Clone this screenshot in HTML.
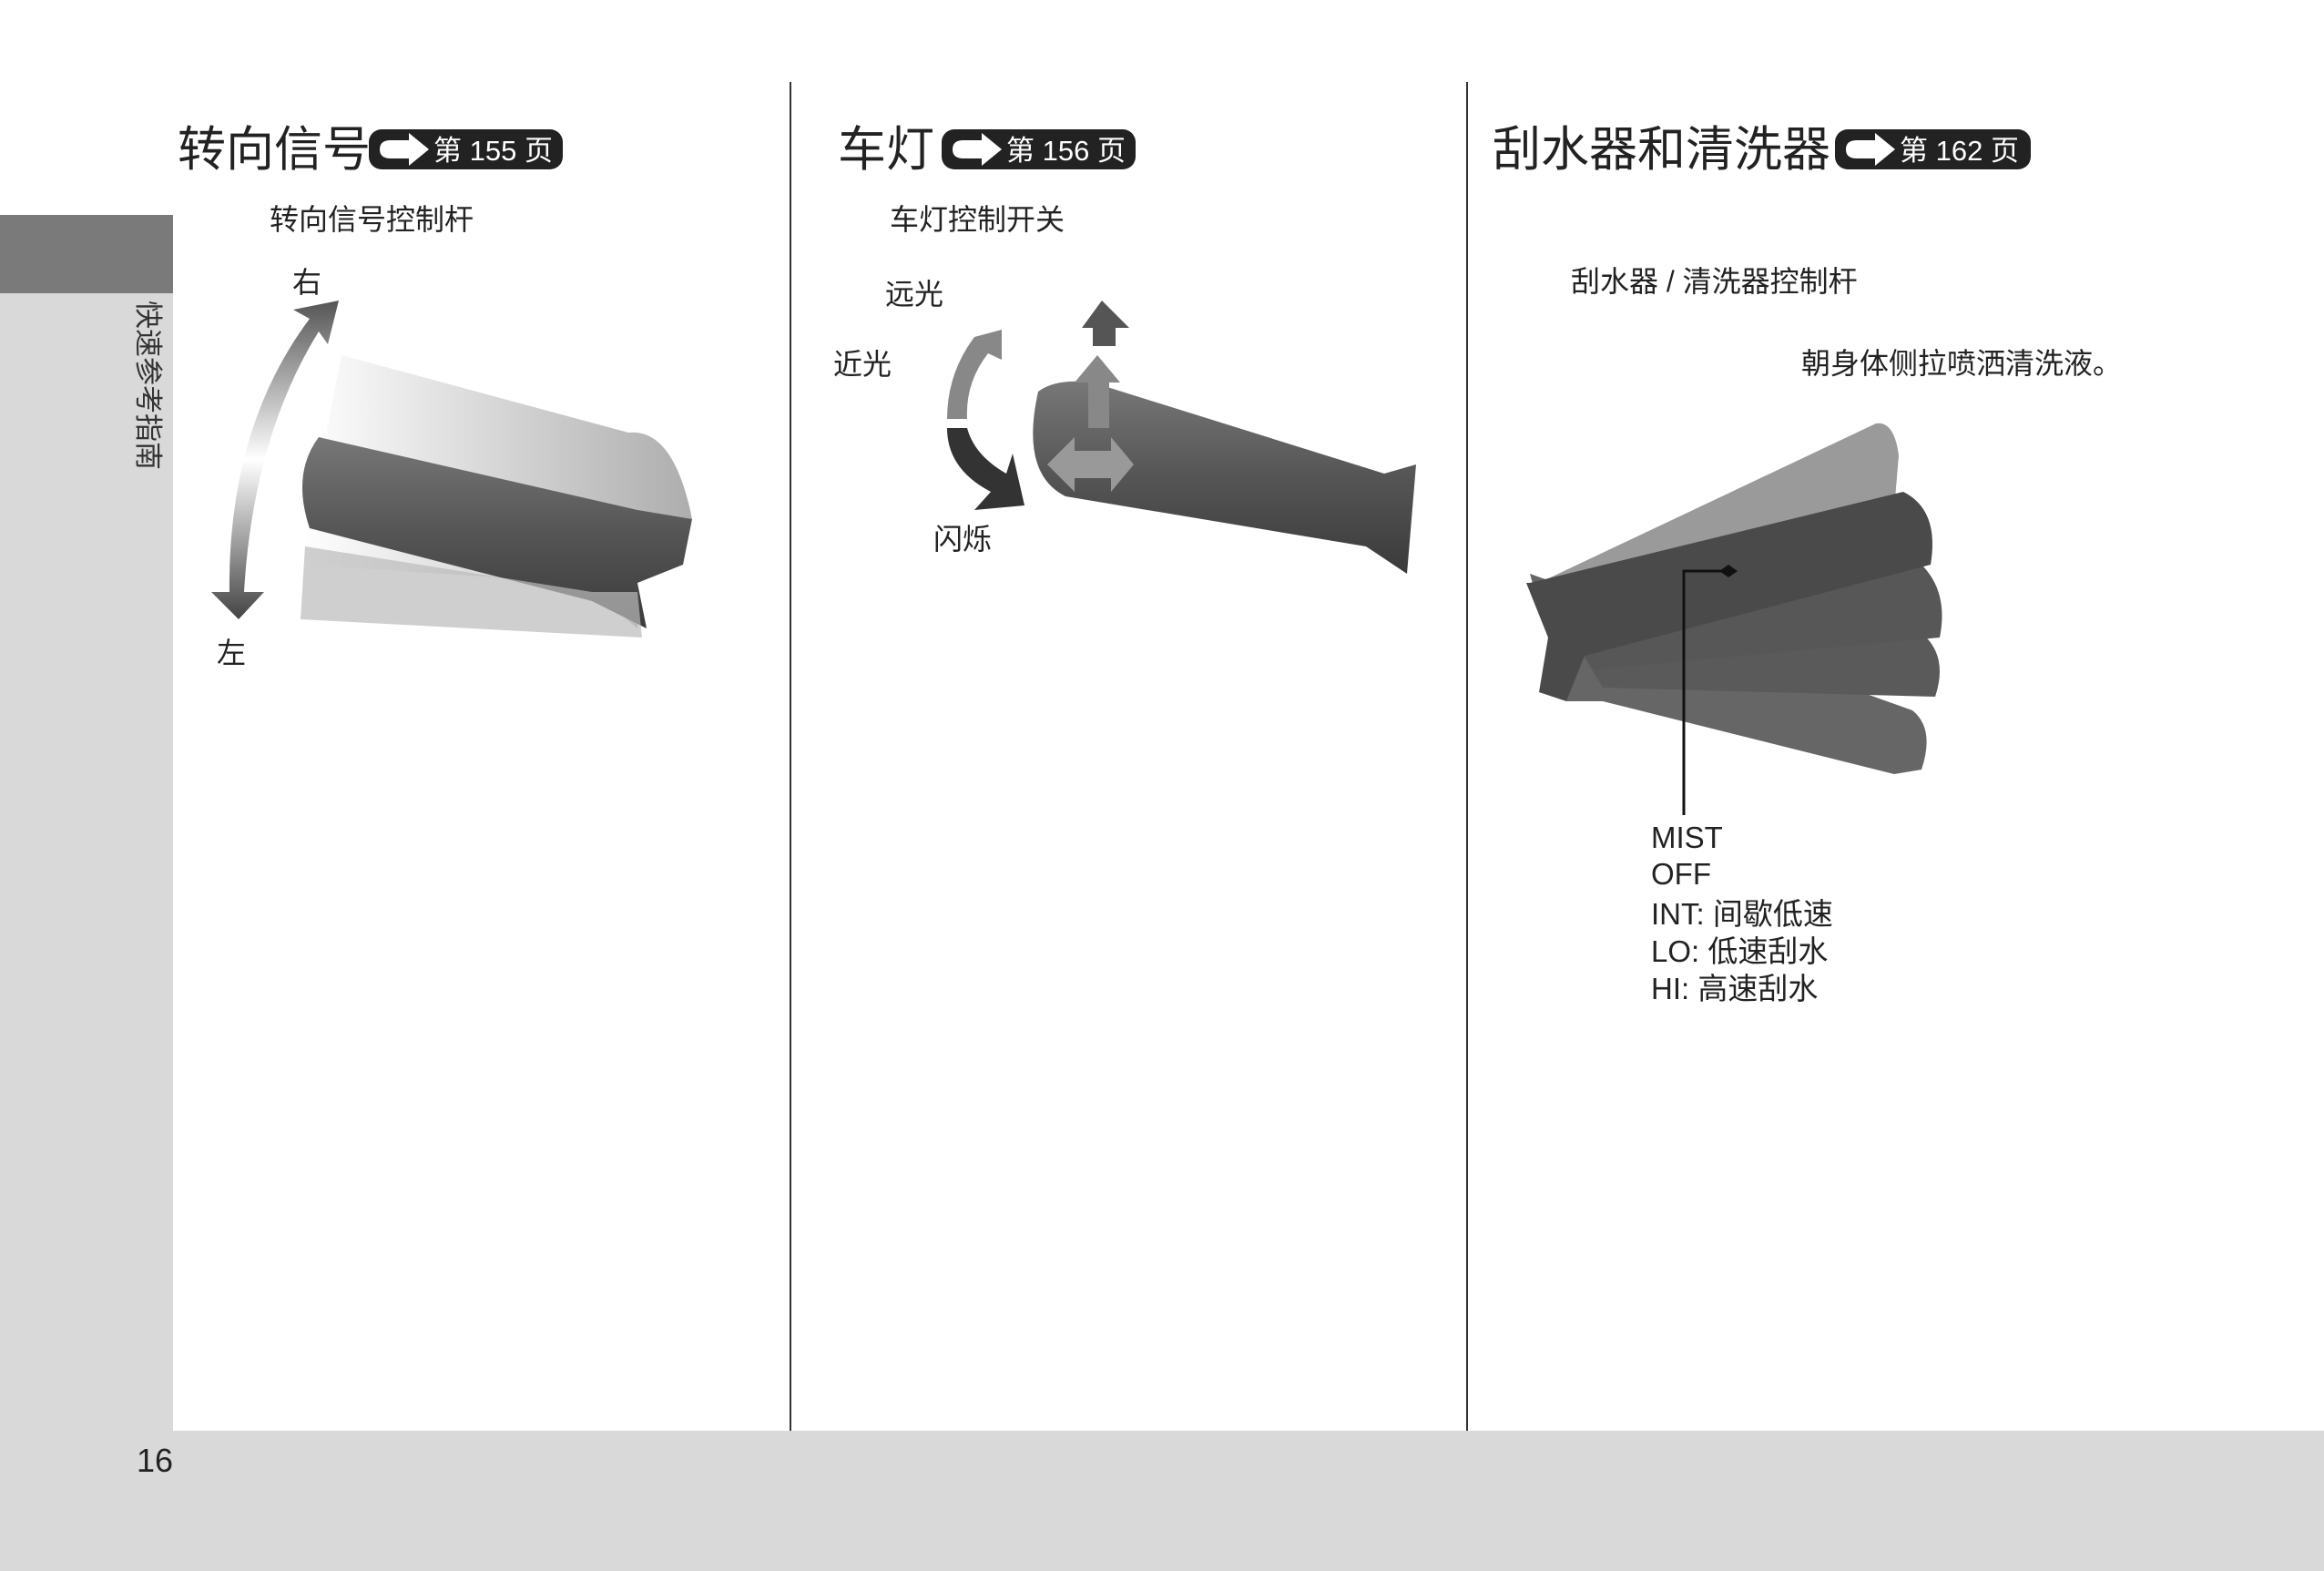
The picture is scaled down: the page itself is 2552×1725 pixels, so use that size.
<!DOCTYPE html>
<html><head><meta charset="utf-8"><style>
html,body{margin:0;padding:0;background:#fff}
svg{display:block}
text{font-family:"Liberation Sans","Noto Sans CJK SC",sans-serif;fill:#222}
</style></head><body>
<svg width="2552" height="1725" viewBox="0 0 2552 1725" xmlns="http://www.w3.org/2000/svg">
<defs>
<linearGradient id="arr1" x1="0" y1="0" x2="0" y2="1">
<stop offset="0" stop-color="#555"/><stop offset="0.5" stop-color="#fff"/><stop offset="1" stop-color="#444"/></linearGradient>
<linearGradient id="lev" x1="0" y1="0" x2="0" y2="1">
<stop offset="0" stop-color="#777"/><stop offset="0.5" stop-color="#555"/><stop offset="1" stop-color="#3a3a3a"/></linearGradient>
<linearGradient id="levf" x1="0" y1="0" x2="1" y2="0">
<stop offset="0" stop-color="#fff"/><stop offset="0.5" stop-color="#ccc"/><stop offset="1" stop-color="#999"/></linearGradient>
<linearGradient id="arr2" x1="0" y1="0" x2="0" y2="1">
<stop offset="0" stop-color="#aaa"/><stop offset="1" stop-color="#333"/></linearGradient>
</defs>
<rect width="2552" height="1725" fill="#fff"/>
<rect x="0" y="321" width="190" height="1404" fill="#d9d9d9"/>
<rect x="0" y="236" width="190" height="86" fill="#7a7a7a"/>
<rect x="0" y="1571" width="2552" height="154" fill="#d9d9d9"/>
<line x1="868" y1="90" x2="868" y2="1571" stroke="#333" stroke-width="2"/>
<line x1="1611" y1="90" x2="1611" y2="1571" stroke="#333" stroke-width="2"/>
<text transform="translate(152,330) rotate(90)" font-size="31" style="fill:#333">快速参考指南</text>
<text x="150" y="1616" font-size="36">16</text>

<!-- col1 -->
<text x="195" y="182" font-size="53">转向信号</text>
<rect x="405" y="142" width="213" height="44" rx="14" fill="#222"/>
<path d="M417 164 q0-10 12-10 h20 v-8 l22 18 -22 18 v-8 h-20 q-12 0-12-10z" fill="#fff"/>
<text x="476" y="176" font-size="31" style="fill:#fff">第 155 页</text>
<text x="296" y="252" font-size="32">转向信号控制杆</text>
<text x="321" y="321" font-size="32">右</text>
<text x="238" y="728" font-size="32">左</text>
<path d="M252 650 Q250 470 340 350 L322 340 L372 330 L360 378 L350 364 Q278 480 268 650 L290 650 L262 680 L232 650 Z" fill="url(#arr1)"/>
<path d="M375 390 L690 475 Q740 470 760 570 L700 600 L700 690 L640 640 L330 620 Z" fill="url(#levf)" opacity="0.8"/>
<path d="M350 480 L700 560 L760 570 L750 620 L700 640 L710 690 L650 660 L340 580 Q320 520 350 480 Z" fill="url(#lev)"/>
<path d="M335 600 L650 650 L700 650 L705 700 L330 680 Z" fill="#bbb" opacity="0.7"/>

<!-- col2 -->
<text x="920" y="182" font-size="53">车灯</text>
<rect x="1034" y="142" width="213" height="44" rx="14" fill="#222"/>
<path d="M1046 164 q0-10 12-10 h20 v-8 l22 18 -22 18 v-8 h-20 q-12 0-12-10z" fill="#fff"/>
<text x="1105" y="176" font-size="31" style="fill:#fff">第 156 页</text>
<text x="977" y="252" font-size="32">车灯控制开关</text>
<text x="972" y="334" font-size="32">远光</text>
<text x="915" y="411" font-size="32">近光</text>
<text x="1025" y="603" font-size="32">闪烁</text>
<path d="M1070 370 L1100 362 L1100 395 L1085 388 Q1060 420 1062 460 L1040 460 Q1040 410 1070 370Z" fill="#888"/>
<path d="M1040 470 L1062 470 Q1070 500 1105 520 L1112 498 L1125 555 L1070 560 L1088 540 Q1040 515 1040 470Z" fill="#333"/>
<path d="M1140 430 Q1160 415 1200 420 L1520 520 L1555 510 L1545 630 L1500 600 L1170 545 Q1120 520 1140 430Z" fill="url(#lev)"/>
<path d="M1188 360 L1210 330 L1240 360 L1225 360 L1225 380 L1200 380 L1200 360Z" fill="#555"/>
<path d="M1180 420 L1205 390 L1230 420 L1218 420 L1218 470 L1195 470 L1195 420Z" fill="#888"/>
<path d="M1150 510 L1180 480 L1180 495 L1220 495 L1220 480 L1245 510 L1220 540 L1220 525 L1180 525 L1180 540Z" fill="#999"/>

<!-- col3 -->
<text x="1639" y="182" font-size="53">刮水器和清洗器</text>
<rect x="2015" y="142" width="215" height="44" rx="14" fill="#222"/>
<path d="M2027 164 q0-10 12-10 h20 v-8 l22 18 -22 18 v-8 h-20 q-12 0-12-10z" fill="#fff"/>
<text x="2086" y="176" font-size="31" style="fill:#fff">第 162 页</text>
<text x="1725" y="320" font-size="32">刮水器 / 清洗器控制杆</text>
<text x="1978" y="410" font-size="32">朝身体侧拉喷洒清洗液。</text>
<path d="M1690 640 L2060 465 Q2080 462 2085 500 L2080 560 L1700 650Z" fill="#9a9a9a"/>
<path d="M1680 630 L2100 780 Q2125 800 2110 845 L2080 850 L1760 770 L1720 770 Z" fill="#666"/>
<path d="M1690 640 L2110 695 Q2140 720 2125 765 L1760 755 Z" fill="#5a5a5a"/>
<path d="M1690 640 L2110 620 Q2140 650 2130 700 L1750 735 Z" fill="#575757"/>
<path d="M1680 640 L2090 540 Q2130 560 2120 620 L1740 720 L1720 770 L1690 760 L1700 700 L1676 640 Z" fill="#4a4a4a"/>
<polyline points="1849,895 1849,627 1898,627" fill="none" stroke="#111" stroke-width="3"/>
<path d="M1898 620 L1908 627 L1898 634 L1888 627Z" fill="#111"/>
<text x="1813" y="931" font-size="33">MIST</text>
<text x="1813" y="971" font-size="33">OFF</text>
<text x="1813" y="1015" font-size="33">INT: 间歇低速</text>
<text x="1813" y="1056" font-size="33">LO: 低速刮水</text>
<text x="1813" y="1097" font-size="33">HI: 高速刮水</text>
</svg>
</body></html>
